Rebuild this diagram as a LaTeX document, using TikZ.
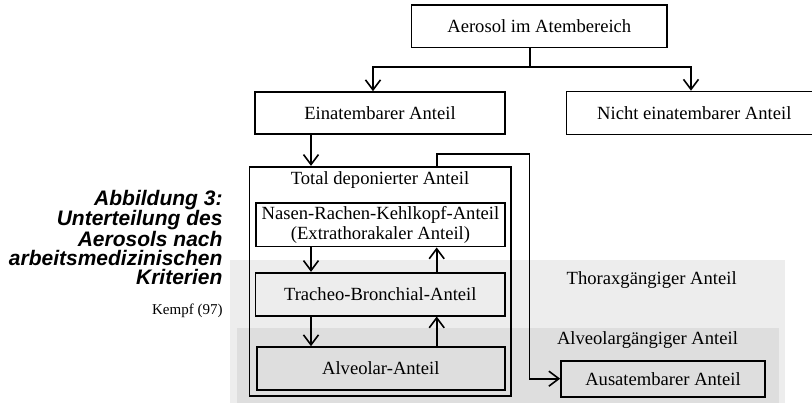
\documentclass[tikz,border=0pt]{standalone}
\usepackage{fontspec}
\setmainfont{Liberation Serif}
\newfontfamily\capfont{Liberation Sans}
\usetikzlibrary{arrows.meta, calc}

\begin{document}
\begin{tikzpicture}[x=1pt, y=-1pt,
        boxtext/.style={font=\fontsize{18.6}{20}\selectfont},
        box/.style={draw, line width=1.6pt, inner sep=0pt, align=center, boxtext},
        arr/.style={line width=1.6pt, -{Straight Barb[length=10pt, width=15pt]}},
        conn/.style={line width=1.6pt}]
        \useasboundingbox (0,0) rectangle (812,412);
        \clip (0,0) rectangle (812,412);

        % Shaded bands for the thoracic and alveolar fractions
        \fill[black!7] (230,260) rectangle (785,403);
        \fill[black!13] (236.7,328.3) rectangle (779,403);
        \node[boxtext] (thxlabel) at (651.7,280) {Thoraxgängiger Anteil};
        \node[boxtext] (alvlabel) at (647.5,340) {Alveolargängiger Anteil};

        % Caption on the left
        \node[anchor=north east, inner sep=0pt, align=right,
              font=\capfont\bfseries\itshape\fontsize{21}{19.2}\selectfont]
              (caption) at (222.7,190) {Abbildung 3:\\Unterteilung des\\Aerosols nach\\arbeitsmedizinischen\\Kriterien};
        \node[anchor=east, inner sep=0pt, font=\fontsize{15}{16}\selectfont] (source) at (222.7,310.7) {Kempf (97)};

        % Top level boxes
        \node[box, minimum width=255.3, minimum height=42.7] (aerosol) at (539.3,26.3) {Aerosol im Atembereich};
        \node[box, minimum width=250, minimum height=42] (einat) at (380,113) {Einatembarer Anteil};
        \node[box, minimum width=255.3, minimum height=43] (nicht) at (694.3,113) {Nicht einatembarer Anteil};

        % Total deposited fraction with its parts
        \node[box, minimum width=261.4, minimum height=229.3] (total) at (380,281.35) {};
        \node[boxtext] (totlabel) at (380,180) {Total deponierter Anteil};
        \node[box, fill=white, minimum width=249, minimum height=43.7] (nasen) at (380.5,224.8) {Nasen-Rachen-Kehlkopf-Anteil\\(Extrathorakaler Anteil)};
        \node[box, fill=black!7, minimum width=249.3, minimum height=43] (trach) at (380.3,294.2) {Tracheo-Bronchial-Anteil};
        \node[box, fill=black!13, minimum width=248, minimum height=43] (alv) at (380.8,368.5) {Alveolar-Anteil};
        \node[box, fill=black!13, minimum width=204, minimum height=36] (aus) at (663,378.7) {Ausatembarer Anteil};

        % Columns and bends for the connectors
        \coordinate (lcol) at (311,0);
        \coordinate (rcol) at (436.7,0);
        \coordinate (split) at (530,67);
        \coordinate (bend) at (529.3,154);

        % Connectors
        \draw[conn] (aerosol.south -| split) -- (split);
        \draw[arr] (split) -| ($(einat.north)+(-7,0)$);
        \draw[arr] (split) -| ($(nicht.north)+(-3.3,0)$);
        \draw[arr] (einat.south -| lcol) -- (total.north -| lcol);
        \draw[arr] (nasen.south -| lcol) -- (trach.north -| lcol);
        \draw[arr] (trach.south -| lcol) -- (alv.north -| lcol);
        \draw[arr] (trach.north -| rcol) -- (nasen.south -| rcol);
        \draw[arr] (alv.north -| rcol) -- (trach.south -| rcol);
        \draw[arr] (total.north -| rcol) |- (bend) |- (aus.west);
    \end{tikzpicture}
\end{document}
